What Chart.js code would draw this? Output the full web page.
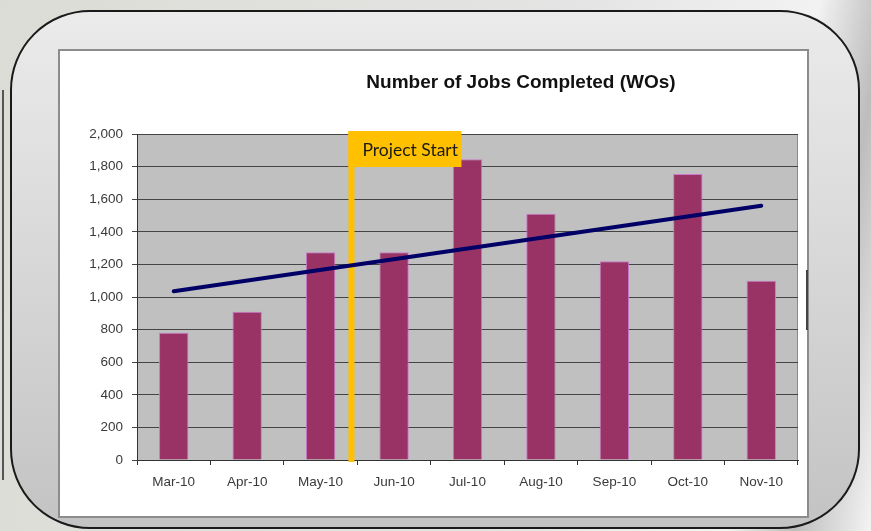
<!DOCTYPE html>
<html>
<head>
<meta charset="utf-8">
<script src="https://cdn.jsdelivr.net/npm/chart.js@4.4.0/dist/chart.umd.min.js"></script>
<style>
    html, body { margin: 0; padding: 0; }
    body {
        width: 871px; height: 531px; overflow: hidden; position: relative;
        background: linear-gradient(100deg, #dcdcd6 0%, #e4e4e4 60%, #f2f2f2 85%, #bdbdbd 92%, #f4f4f4 100%);
    }
    #edge { position: absolute; left: 2px; top: 90px; width: 2px; height: 390px; background: #555; }
    #frame {
        position: absolute; left: 10px; top: 10px; width: 850px; height: 519px;
        box-sizing: border-box; border: 2px solid #1a1a1a; border-radius: 80px;
        background: linear-gradient(#ebebeb, #c3c3c3);
    }
    #box {
        position: absolute; left: 58px; top: 49px; width: 751px; height: 469px;
        box-sizing: border-box; border: 2px solid #8c8c8c; background: #fff;
    }
    #wrap { position: absolute; left: 59px; top: 50px; width: 749px; height: 467px; }
    #title {
        position: absolute; left: 321px; top: 71px; width: 400px; text-align: center;
        font: bold 19px "Liberation Sans", Arial, sans-serif; color: #111;
    }
    #mark { position: absolute; left: 806px; top: 270px; width: 2px; height: 60px; background: #444; }
</style>
</head>
<body>
<div id="edge"></div>
<div id="frame"></div>
<div id="box"></div>
<div id="wrap"><canvas id="jobs"></canvas></div>
<div id="title">Number of Jobs Completed (WOs)</div>
<div id="mark"></div>
<script>
    const months = ['Mar-10', 'Apr-10', 'May-10', 'Jun-10', 'Jul-10', 'Aug-10', 'Sep-10', 'Oct-10', 'Nov-10'];
    const jobsCompleted = [780, 910, 1275, 1275, 1845, 1510, 1220, 1755, 1100];
    // trend line at its two ends (Mar and Nov)
    const trendValues = [1035, null, null, null, null, null, null, null, 1560];
    const yTicks = [0, 200, 400, 600, 800, 1000, 1200, 1400, 1600, 1800, 2000];
    const projectStartLabel = 'Project Start';
    const projectStartAt = 2.42; // between May-10 and Jun-10, in category units

    const plotArea = {
        id: 'plotArea',
        beforeDraw(chart) {
            const { ctx, chartArea: a } = chart;
            ctx.save();
            ctx.fillStyle = '#c0c0c0';
            ctx.fillRect(a.left, a.top, a.right - a.left, a.bottom - a.top);
            ctx.strokeStyle = '#8a8a8a';
            ctx.lineWidth = 1;
            ctx.strokeRect(a.left + 0.5, a.top + 0.5, a.right - a.left - 1, a.bottom - a.top);
            ctx.restore();
        }
    };

    function startX(chart) {
        const x = chart.scales.x;
        const i = Math.floor(projectStartAt);
        const p0 = x.getPixelForValue(i);
        const p1 = x.getPixelForValue(i + 1);
        return p0 + (projectStartAt - i) * (p1 - p0);
    }

    const projectStart = {
        id: 'projectStart',
        beforeDatasetsDraw(chart) {
            const { ctx, chartArea: a } = chart;
            const px = startX(chart);
            ctx.save();
            ctx.fillStyle = '#ffc000';
            ctx.fillRect(px - 3, a.top - 3, 6, a.bottom - a.top + 5);
            ctx.restore();
        },
        afterDatasetsDraw(chart) {
            const { ctx, chartArea: a } = chart;
            const px = startX(chart);
            ctx.save();
            ctx.fillStyle = '#ffc000';
            ctx.fillRect(px - 3, a.top - 3, 113, 36);
            ctx.fillStyle = '#1a1a1a';
            ctx.font = '17.5px Lato, "Open Sans", sans-serif';
            ctx.textBaseline = 'middle';
            ctx.fillText(projectStartLabel, px + 11, a.top + 16);
            ctx.restore();
        }
    };

    const tickFont = { family: '"Liberation Sans", Arial, sans-serif', size: 13.5 };

    new Chart(document.getElementById('jobs').getContext('2d'), {
        data: {
            labels: months,
            datasets: [{
                type: 'line',
                label: 'Trend',
                data: trendValues,
                spanGaps: true,
                borderColor: '#000066',
                borderWidth: 4,
                borderCapStyle: 'round',
                pointRadius: 0,
                order: 0
            }, {
                type: 'bar',
                label: 'Jobs Completed',
                data: jobsCompleted,
                backgroundColor: '#993366',
                borderColor: '#cc77cc',
                borderWidth: 1,
                barPercentage: 0.4,
                categoryPercentage: 1.0,
                order: 1
            }]
        },
        options: {
            responsive: true,
            maintainAspectRatio: false,
            animation: false,
            layout: { padding: { top: 84, right: 10, left: 0, bottom: 0 } },
            plugins: {
                legend: { display: false },
                tooltip: { enabled: false }
            },
            scales: {
                x: {
                    afterFit: (scale) => { scale.height = 57; },
                    grid: { offset: true, drawOnChartArea: false, tickLength: 5, color: '#333' },
                    border: { display: true, color: '#333', width: 1 },
                    ticks: { padding: 9, color: '#3a3a3a', font: tickFont }
                },
                y: {
                    min: 0,
                    max: 2000,
                    afterFit: (scale) => { scale.width = 78; },
                    afterBuildTicks: (scale) => { scale.ticks = yTicks.map(v => ({ value: v })); },
                    grid: { color: '#444', tickLength: 5, lineWidth: 1 },
                    border: { display: true, color: '#333', width: 1 },
                    ticks: {
                        padding: 9,
                        color: '#3a3a3a',
                        font: tickFont,
                        callback: (v) => v.toLocaleString('en-US')
                    }
                }
            }
        },
        plugins: [plotArea, projectStart]
    });
</script>
</body>
</html>
